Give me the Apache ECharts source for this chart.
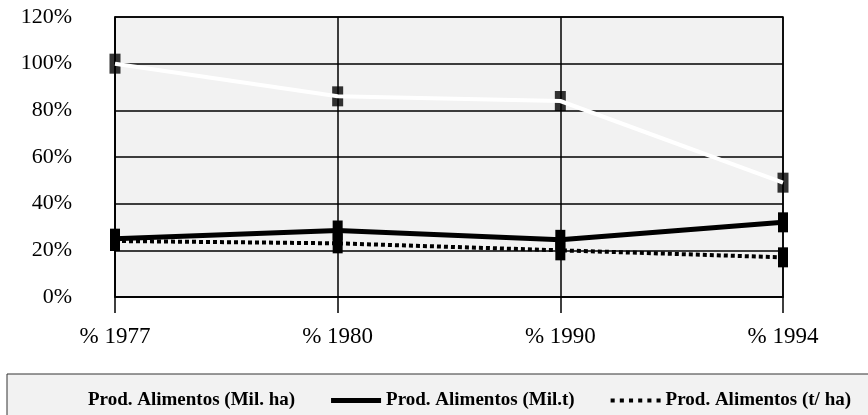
<!DOCTYPE html>
<html>
<head>
<meta charset="utf-8">
<script src="https://cdn.jsdelivr.net/npm/echarts@6/dist/echarts.min.js"></script>
<style>
  html, body { margin: 0; padding: 0; background: #fff; }
  #chart { width: 868px; height: 415px; }
</style>
</head>
<body>
<div id="chart"></div>
<script>
var categories = ['% 1977', '% 1980', '% 1990', '% 1994'];
var seriesNames = ['Prod. Alimentos (Mil. ha)', 'Prod. Alimentos (Mil.t)', 'Prod. Alimentos (t/ ha)'];
var milHa = [100, 86, 84, 49];
var milT = [25, 28.5, 24.5, 32];
var tHa = [24, 23, 20, 17];

var serif = 'Liberation Serif';
var paper = '#f2f2f2';
var dotIcon = 'path://M0,0h4v4h-4z M9,0h4v4h-4z M18,0h4v4h-4z M27,0h4v4h-4z M36,0h4v4h-4z M45,0h4v4h-4z';

var chart = echarts.init(document.getElementById('chart'));

chart.setOption({
  animation: false,
  grid: {
    left: 115,
    right: 85,
    top: 17,
    bottom: 118,
    show: true,
    backgroundColor: paper,
    borderColor: '#000',
    borderWidth: 1.5
  },
  graphic: [{
    type: 'rect',
    shape: { x: 7, y: 374, width: 870, height: 50 },
    style: { fill: paper, stroke: '#333', lineWidth: 1 },
    z: -1
  }],
  legend: {
    data: [
      // the white line is lost on the grey box, as in the original
      { name: seriesNames[0], icon: 'rect', itemStyle: { color: paper } },
      { name: seriesNames[1], icon: 'rect', itemStyle: { color: '#000' } },
      { name: seriesNames[2], icon: dotIcon, itemStyle: { color: '#000' } }
    ],
    left: 28,
    top: 386,
    itemWidth: 50,
    itemHeight: 5,
    itemGap: 36,
    textStyle: { fontFamily: serif, fontSize: 19, fontWeight: 'bold', color: '#000' }
  },
  xAxis: {
    type: 'category',
    data: categories,
    boundaryGap: false,
    axisLine: { lineStyle: { color: '#000', width: 1.5 } },
    axisTick: { length: 16, lineStyle: { color: '#000', width: 1.5 } },
    splitLine: { show: true, lineStyle: { color: '#000', width: 1.5 } },
    axisLabel: { margin: 28, fontFamily: serif, fontSize: 23, color: '#000' }
  },
  yAxis: {
    type: 'value',
    min: 0,
    max: 120,
    interval: 20,
    axisLine: { show: true, lineStyle: { color: '#000', width: 1.5 } },
    axisTick: { show: false },
    splitLine: { lineStyle: { color: '#000', width: 1.5 } },
    axisLabel: { margin: 43, fontFamily: serif, fontSize: 22, color: '#000', formatter: '{value}%' }
  },
  series: [{
    // black markers of the white series, cut by the white line drawn on top
    name: seriesNames[0] + ' ',
    type: 'scatter',
    data: milHa,
    symbol: 'rect',
    symbolSize: [11, 20],
    itemStyle: { color: '#000' },
    z: 2
  }, {
    name: seriesNames[1],
    type: 'line',
    data: milT,
    symbol: 'rect',
    symbolSize: [10, 20],
    itemStyle: { color: '#000' },
    lineStyle: { color: '#000', width: 5 },
    z: 3
  }, {
    name: seriesNames[2],
    type: 'line',
    data: tHa,
    symbol: 'rect',
    symbolSize: [10, 20],
    itemStyle: { color: '#000' },
    lineStyle: { color: '#000', width: 4, type: [4, 3], cap: 'butt' },
    z: 3
  }, {
    name: seriesNames[0],
    type: 'line',
    data: milHa,
    symbol: 'none',
    itemStyle: { color: '#fff' },
    lineStyle: { color: '#fff', width: 4 },
    z: 4
  }]
});
</script>
</body>
</html>
